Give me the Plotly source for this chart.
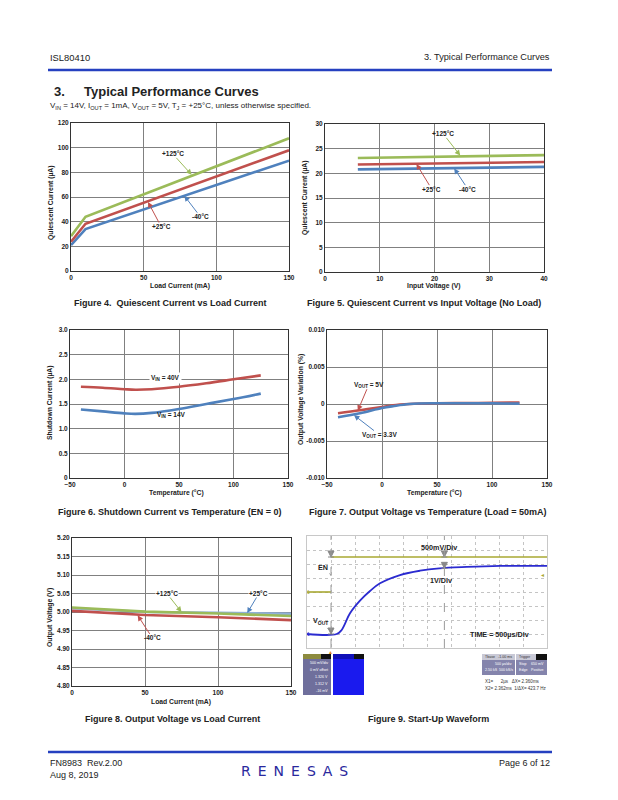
import plotly.graph_objects as go

W, H = 618, 800
FONT = "Liberation Sans, Arial, sans-serif"
BLUE, RED, GREEN = "#4f81bd", "#c0504d", "#9bbb59"
GRID = "#808080"

# Figure 4: quiescent current (uA) vs load current (mA)
f4_load = [0, 10, 150]
f4_125 = [28.3, 44.0, 107.6]
f4_25 = [23.7, 38.3, 97.9]
f4_m40 = [21.0, 34.0, 89.5]

# Figure 5: quiescent current (uA) vs input voltage (V), no load
f5_vin = [6, 40]
f5_125 = [23.1, 23.7]
f5_25 = [21.8, 22.3]
f5_m40 = [20.8, 21.3]

# Figure 6: shutdown current (uA) vs temperature (C)
f6_temp = [-40, -20, 0, 10, 25, 50, 75, 100, 125]
f6_40v = [1.85, 1.83, 1.80, 1.79, 1.80, 1.85, 1.92, 2.00, 2.08]
f6_14v = [1.39, 1.35, 1.31, 1.30, 1.32, 1.40, 1.50, 1.60, 1.71]

# Figure 7: output voltage variation (%) vs temperature (C)
f7_temp = [-40, -20, 0, 10, 25, 50, 75, 100, 125]
f7_5v = [-0.00124, -0.00084, -0.0004, -0.00016, 0.0, 0.0001, 0.00012, 0.00015, 0.0002]
f7_33v = [-0.0018, -0.00125, -0.00055, -0.0003, 0.0, 0.0001, 0.0001, 0.0001, 0.00005]

# Figure 8: output voltage (V) vs load current (mA)
f8_load = [0, 50, 100, 150]
f8_25 = [5.010, 5.000, 4.998, 4.995]
f8_125 = [5.012, 5.001, 4.996, 4.989]
f8_m40 = [5.003, 4.992, 4.986, 4.978]

# Figure 9: scope capture, time in us, amplitude in screen divisions
f9_en_t = [-500, 0, None, 0, 4500]
f9_en = [0, 0, None, 2.5, 2.5]
f9_vout_t = [-500, 118, 222, 396, 604, 812, 1021, 1437, 1854, 2256, 2827, 3521, 4500]
f9_vout = [-3.0, -3.0, -2.71, -1.52, -0.62, 0.07, 0.62, 1.21, 1.52, 1.69, 1.79, 1.86, 1.86]
f9_cursors = [0, 2362]

# pixel boxes of the plot areas on the page (left, top, right, bottom)
boxes = {
    1: (71, 123, 289, 271),
    2: (325, 124, 544, 272),
    3: (70, 330, 288, 478),
    4: (327, 330, 547, 478),
    5: (72, 538, 291, 686),
    6: (307, 536, 547, 648),
}

TICK = dict(family=FONT, size=6.5, color="#222", weight="bold")
LAB = dict(family=FONT, size=6.5, color="#222", weight="bold")
OFF = 8  # the html body margin shifts the figure by 8px


def px(x):
    return (x - OFF) / W


def py(y):
    return 1 - (y - OFF) / H


def xr(k):
    return "x" if k == 1 else f"x{k}"


def yr(k):
    return "y" if k == 1 else f"y{k}"


layout_axes = {}


def add_axes(k, xrange, yrange, xticks, yticks, ytext=None):
    x0, y0, x1, y1 = boxes[k]
    common = dict(showgrid=True, gridcolor=GRID, gridwidth=1, showline=True,
                  linecolor="#333", linewidth=1, mirror=True, zeroline=False,
                  ticks="", tickfont=TICK, fixedrange=True, automargin=False)
    layout_axes["xaxis" if k == 1 else f"xaxis{k}"] = dict(
        domain=[px(x0), px(x1)], range=xrange, anchor=yr(k), tickvals=xticks, **common)
    layout_axes["yaxis" if k == 1 else f"yaxis{k}"] = dict(
        domain=[py(y1), py(y0)], range=yrange, anchor=xr(k), tickvals=yticks,
        ticktext=ytext, **common)


add_axes(1, [0, 150], [0, 120], [0, 50, 100, 150], [0, 20, 40, 60, 80, 100, 120])
add_axes(2, [0, 40], [0, 30], [0, 10, 20, 30, 40], [0, 5, 10, 15, 20, 25, 30])
add_axes(3, [-50, 150], [0, 3], [-50, 0, 50, 100, 150], [0, 0.5, 1, 1.5, 2, 2.5, 3],
         ["0", "0.5", "1.0", "1.5", "2.0", "2.5", "3.0"])
add_axes(4, [-50, 150], [-0.01, 0.01], [-50, 0, 50, 100, 150],
         [-0.01, -0.005, 0, 0.005, 0.01], ["-0.010", "-0.005", "0", "0.005", "0.010"])
add_axes(5, [0, 150], [4.8, 5.2], [0, 50, 100, 150],
         [4.80, 4.85, 4.90, 4.95, 5.00, 5.05, 5.10, 5.15, 5.20],
         ["4.80", "4.85", "4.90", "4.95", "5.00", "5.05", "5.10", "5.15", "5.20"])
# scope screen
x0, y0, x1, y1 = boxes[6]
scope_ax = dict(showticklabels=False, showgrid=True, gridcolor="#c4c4c4", griddash="dot",
                showline=True, linecolor="#c8c8c8", mirror=True, zeroline=False, ticks="",
                fixedrange=True, automargin=False)
layout_axes["xaxis6"] = dict(domain=[px(x0), px(x1)], range=[-500, 4500], anchor="y6",
                             dtick=500, tick0=-500, **scope_ax)
layout_axes["yaxis6"] = dict(domain=[py(y1), py(y0)], range=[-4, 4], anchor="x6",
                             dtick=1, **scope_ax)

fig = go.Figure()


def line(k, x, y, color, width=2.6, shape="linear"):
    fig.add_trace(go.Scatter(x=x, y=y, xaxis=xr(k), yaxis=yr(k), mode="lines",
                             line=dict(color=color, width=width, shape=shape),
                             showlegend=False, hoverinfo="skip"))


line(1, f4_load, f4_m40, BLUE)
line(1, f4_load, f4_25, RED)
line(1, f4_load, f4_125, GREEN)
line(2, f5_vin, f5_m40, BLUE)
line(2, f5_vin, f5_25, RED)
line(2, f5_vin, f5_125, GREEN)
line(3, f6_temp, f6_40v, RED, shape="spline")
line(3, f6_temp, f6_14v, BLUE, shape="spline")
line(4, f7_temp, f7_5v, RED, shape="spline")
line(4, f7_temp, f7_33v, BLUE, shape="spline")
line(5, f8_load, f8_25, "#8fb0d8")
line(5, f8_load, f8_m40, RED)
line(5, f8_load, f8_125, GREEN)

# scope cursors, then traces
for c in f9_cursors:
    fig.add_shape(type="line", xref="x6", yref="y6", x0=c, x1=c, y0=-4, y1=4,
                  line=dict(color="#9a9a9a", width=1, dash="dash"))
line(6, f9_en_t, f9_en, "#a8a832", width=1.6)
line(6, f9_vout_t, f9_vout, "#2b2bd0", width=1.8, shape="spline")
fig.add_trace(go.Scatter(x=[f9_cursors[0], f9_cursors[0], f9_cursors[1], f9_cursors[1]],
                         y=[2.5, -3.0, 2.5, 1.69], xaxis="x6", yaxis="y6", mode="markers",
                         marker=dict(symbol="arrow-bar-down", size=6, color="#888",
                                     line=dict(width=1, color="#888")),
                         showlegend=False, hoverinfo="skip"))

ann = []


def text(x, y, s, size=9, bold=False, anchor="left", color="#222", family=FONT, **kw):
    f = dict(family=family, size=size, color=color)
    if bold:
        f["weight"] = "bold"
    ann.append(dict(xref="paper", yref="paper", x=px(x), y=py(y), text=s, showarrow=False,
                    xanchor=anchor, yanchor="middle", font=f, **kw))


def callout(k, s, tx, ty, hx, hy, color, bg=None):
    d = dict(xref=xr(k), yref=yr(k), axref=xr(k), ayref=yr(k), x=hx, y=hy, ax=tx, ay=ty,
             text=s, showarrow=True, arrowhead=2, arrowsize=1.1, arrowwidth=1,
             arrowcolor=color, font=LAB, borderpad=0)
    if bg:
        d["bgcolor"] = bg
    ann.append(d)


# page header
text(48, 57, "ISL80410", 9.4)
text(552, 57, "3. Typical Performance Curves", 9.2, anchor="right")
text(52, 92, "3.", 13, bold=True)
text(82, 92, "Typical Performance Curves", 13, bold=True)
text(48, 106, "V<sub>IN</sub> = 14V, I<sub>OUT</sub> = 1mA, V<sub>OUT</sub> = 5V, "
              "T<sub>J</sub> = +25°C, unless otherwise specified.", 8)

# axis titles
AX = dict(size=6.8, bold=True, anchor="center")
text(180, 286, "Load Current (mA)", **AX)
text(434, 286, "Input Voltage (V)", **AX)
text(176, 493, "Temperature (°C)", **AX)
text(435, 493, "Temperature (°C)", **AX)
text(181, 702, "Load Current (mA)", **AX)
text(51, 203, "Quiescent Current (µA)", textangle=-90, **AX)
text(305, 198, "Quiescent Current (µA)", textangle=-90, **AX)
text(50, 403, "Shutdown Current (µA)", textangle=-90, **AX)
text(301, 400, "Output Voltage Variation (%)", textangle=-90, **AX)
text(50, 618, "Output Voltage (V)", textangle=-90, **AX)

# captions
CAP = dict(size=9, bold=True, anchor="center")
text(170, 303, "Figure 4.  Quiescent Current vs Load Current", **CAP)
text(424, 303, "Figure 5. Quiescent Current vs Input Voltage (No Load)", **CAP)
text(170, 512, "Figure 6. Shutdown Current vs Temperature (EN = 0)", **CAP)
text(427, 512, "Figure 7. Output Voltage vs Temperature (Load = 50mA)", **CAP)
text(172, 719, "Figure 8. Output Voltage vs Load Current", **CAP)
text(428, 719, "Figure 9. Start-Up Waveform", **CAP)

# curve labels
callout(1, "+125°C", 70, 95, 83, 78, GREEN)
callout(1, "-40°C", 89, 44, 78, 61, BLUE)
callout(1, "+25°C", 62, 36, 53, 56, RED)
callout(2, "+125°C", 21.6, 28, 24.7, 23.6, GREEN)
callout(2, "+25°C", 19.5, 16.8, 16.7, 21.9, RED)
callout(2, "-40°C", 26.1, 16.8, 23.6, 21.0, BLUE)
ann.append(dict(xref="x3", yref="y3", x=38, y=2.03, text="V<sub>IN</sub> = 40V",
                showarrow=False, font=LAB, bgcolor="white", borderpad=1))
ann.append(dict(xref="x3", yref="y3", x=43, y=1.28, text="V<sub>IN</sub> = 14V",
                showarrow=False, font=LAB))
callout(4, "V<sub>OUT</sub> = 5V", -12, 0.0026, -22, -0.0009, RED)
callout(4, "V<sub>OUT</sub> = 3.3V", -2, -0.0042, -25.5, -0.0015, BLUE)
callout(5, "+125°C", 65, 5.05, 75, 5.0, GREEN, bg="white")
callout(5, "+25°C", 128, 5.05, 120, 4.997, BLUE, bg="white")
callout(5, "-40°C", 55, 4.93, 45, 4.991, RED)

# scope annotations
SC = dict(family=FONT, size=7.2, color="#222", weight="bold")
ann.append(dict(xref="x6", yref="y6", x=2250, y=3.15, text="500mV/Div", showarrow=False, font=SC))
ann.append(dict(xref="x6", yref="y6", x=2300, y=0.85, text="1V/Div", showarrow=False, font=SC))
ann.append(dict(xref="x6", yref="y6", x=3500, y=-3.05, text="TIME = 500µs/Div",
                showarrow=False, font=SC))
ann.append(dict(xref="x6", yref="y6", axref="x6", ayref="y6", x=0, y=1.2, ax=-160, ay=1.75,
                text="EN", showarrow=True, arrowhead=0, arrowwidth=0.8, arrowcolor="#888",
                font=SC))
ann.append(dict(xref="x6", yref="y6", axref="x6", ayref="y6", x=0, y=-2.85, ax=-200, ay=-2.1,
                text="V<sub>OUT</sub>", showarrow=True, arrowhead=0, arrowwidth=0.8,
                arrowcolor="#888", font=SC))
ann.append(dict(xref="x6", yref="y6", x=-470, y=0, text="1", showarrow=False,
                font=dict(family=FONT, size=5, color="#a8a832")))
ann.append(dict(xref="x6", yref="y6", x=-470, y=-3.0, text="1", showarrow=False,
                font=dict(family=FONT, size=5, color="#2b2bd0")))
text(546, 575, "◂", 6, color="#a8a832", anchor="right")
text(331, 652, "▴", 6, color="#e08a20", anchor="center")


# scope readout boxes
def rect(x0, y0, x1, y1, color):
    fig.add_shape(type="rect", xref="paper", yref="paper", x0=px(x0), x1=px(x1),
                  y0=py(y1), y1=py(y0), fillcolor=color, line=dict(width=0), layer="above")


rect(303, 654, 331, 695, "#6f6f9c")
rect(303, 654, 331, 659, "#8d8b3e")
rect(321, 654, 331, 659, "#111")
rect(333, 654, 364, 695, "#1a1aee")
rect(333, 654, 364, 659, "#1010b8")
rect(354, 654, 364, 659, "#111")
rect(482, 654, 515, 675, "#8484ac")
rect(482, 654, 515, 660, "#c9c9d6")
rect(516, 654, 547, 675, "#8484ac")
rect(516, 654, 547, 660, "#c9c9d6")
rect(536, 654, 547, 660, "#111")
TINY = 3.6
for i, s in enumerate(["500 mV/div", "0 mV offset", "1.326 V", "1.312 V", "-16 mV"]):
    text(330, 663 + i * 7, s, TINY, color="white", anchor="right")
text(483, 657, "Tbase", TINY, color="#333")
text(514, 657, "-1.00 ms", TINY, color="#333", anchor="right")
text(514, 664, "500 µs/div", TINY, color="white", anchor="right")
text(483, 670, "2.50 kS", TINY, color="white")
text(515, 670, "500 kS/s", TINY, color="white", anchor="right")
text(517, 657, "Trigger", TINY, color="#333")
text(517, 664, "Stop", TINY, color="white")
text(546, 664, "650 mV", TINY, color="white", anchor="right")
text(517, 670, "Edge", TINY, color="white")
text(546, 670, "Positive", TINY, color="white", anchor="right")
text(483, 681, "X1=      2µs   ΔX= 2.360ms", 4.5, color="#333")
text(483, 688, "X2= 2.362ms  1/ΔX= 423.7 Hz", 4.5, color="#333")

# page footer
text(48, 763, "FN8983  Rev.2.00", 9)
text(48, 775, "Aug 8, 2019", 9)
text(552, 763, "Page 6 of 12", 9, anchor="right")
text(294, 771, "R\u2002E\u2002N\u2002E\u2002S\u2002A\u2002S", 14, color="#2a289d",
     anchor="center", family="DejaVu Sans")

for yline in (70, 752):
    fig.add_shape(type="line", xref="paper", yref="paper", x0=px(48), x1=px(552),
                  y0=py(yline), y1=py(yline), line=dict(color="#2540c0", width=2.5))

fig.update_layout(width=W, height=H, margin=dict(l=0, r=0, t=0, b=0, pad=0, autoexpand=False),
                  paper_bgcolor="white", plot_bgcolor="white", showlegend=False,
                  font=dict(family=FONT), annotations=ann, **layout_axes)

fig.write_html("out.html")
